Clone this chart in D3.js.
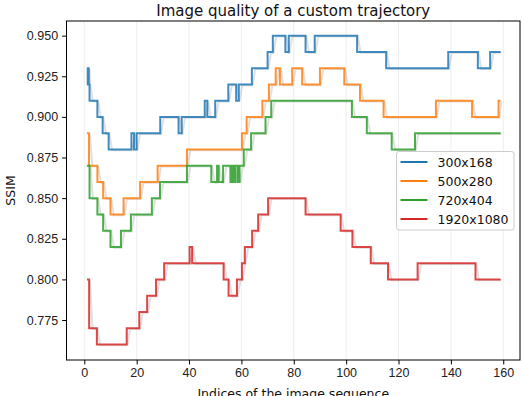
<!DOCTYPE html>
<html>
<head>
<meta charset="utf-8">
<script src="https://cdn.jsdelivr.net/npm/d3@7"></script>
<style>
  body { margin: 0; background: #fff; }
  svg { display: block; font-family: "DejaVu Sans", sans-serif; }
  .axis text { font-size: 12.5px; fill: #222; }
  .axis path, .axis line { stroke: #000; }
</style>
</head>
<body>
<div id="chart"></div>
<script>
// step change points (index where the value starts) and SSIM values
var names = ["300x168", "500x280", "720x404", "1920x1080"];
var colors = ["#1f77b4", "#ff7f0e", "#2ca02c", "#d62728"];

var blueX = [1, 1.3, 1.7, 2, 5, 7, 9.3, 18, 19, 20, 29, 36, 37.2, 46, 47, 50, 55, 58, 59, 64, 70, 72, 76.8, 78.1, 84.5, 88, 104.2, 115.3, 139, 150.3, 155, 159];
var blueY = [0.92, 0.93, 0.92, 0.91, 0.90, 0.89, 0.88, 0.89, 0.88, 0.89, 0.90, 0.89, 0.90, 0.91, 0.90, 0.91, 0.92, 0.91, 0.92, 0.93, 0.94, 0.95, 0.94, 0.95, 0.94, 0.95, 0.94, 0.93, 0.94, 0.93, 0.94, 0.94];

var orangeX = [1, 1.8, 5, 7.2, 10, 15, 21.3, 28, 39.2, 60.2, 62, 68, 70.5, 73.1, 74.7, 79.4, 83.2, 90, 99.3, 105.3, 114.3, 134.3, 148.1, 158.2, 159];
var orangeY = [0.89, 0.87, 0.86, 0.85, 0.84, 0.85, 0.86, 0.87, 0.88, 0.89, 0.90, 0.91, 0.92, 0.93, 0.92, 0.93, 0.92, 0.93, 0.92, 0.91, 0.90, 0.91, 0.90, 0.91, 0.91];

var greenX = [1, 2, 5, 7.2, 10, 14, 17.8, 25.8, 28.9, 39.2, 48.5, 50.7, 51.3, 53, 55.8, 56.4, 57, 57.7, 58.6, 59.3, 60.9, 63.7, 69.2, 71.4, 102.2, 107.9, 117.4, 126.3, 159];
var greenY = [0.87, 0.85, 0.84, 0.83, 0.82, 0.83, 0.84, 0.85, 0.86, 0.87, 0.86, 0.87, 0.86, 0.87, 0.86, 0.87, 0.86, 0.87, 0.86, 0.87, 0.88, 0.89, 0.90, 0.91, 0.90, 0.89, 0.88, 0.89, 0.89];

var redX = [1, 1.85, 4.8, 16.2, 21, 24, 27.4, 30.5, 40.2, 41.2, 53.2, 55.1, 58.3, 60.2, 61.3, 64.1, 66.4, 70.2, 84.5, 97.9, 102.4, 109.4, 116, 127.3, 149.4, 159];
var redY = [0.80, 0.77, 0.76, 0.77, 0.78, 0.79, 0.80, 0.81, 0.82, 0.81, 0.80, 0.79, 0.80, 0.81, 0.82, 0.83, 0.84, 0.85, 0.84, 0.83, 0.82, 0.81, 0.80, 0.81, 0.80, 0.80];

var xTicks = [0, 20, 40, 60, 80, 100, 120, 140, 160];
var yTicks = [0.775, 0.800, 0.825, 0.850, 0.875, 0.900, 0.925, 0.950];

var seriesX = [blueX, orangeX, greenX, redX];
var seriesY = [blueY, orangeY, greenY, redY];

var width = 522, height = 396;
var plotLeft = 66.5, plotRight = 520, plotTop = 21, plotBottom = 360;

var x = d3.scaleLinear().domain([-6.8, 166.4]).range([plotLeft, plotRight]);
var y = d3.scaleLinear().domain([0.7504, 0.959]).range([plotBottom, plotTop]);

var svg = d3.select("#chart")
    .append("svg")
    .attr("width", width)
    .attr("height", height);

// vertical grid
svg.append("g")
    .selectAll("line")
    .data(xTicks)
    .enter()
    .append("line")
    .attr("x1", d => x(d)).attr("x2", d => x(d))
    .attr("y1", plotTop).attr("y2", plotBottom)
    .attr("stroke", "#e8e8e8")
    .attr("stroke-width", 0.8);

var series = names.map(function(n, i) {
    return {name: n, color: colors[i],
	    pts: seriesX[i].map((v, j) => [v, seriesY[i][j]])};
});

// light grey trace: same steps but with slanted transitions
function slanted(pts) {
    var out = [];
    pts.forEach(function(p, i) {
	if(i > 0) out.push([p[0], pts[i - 1][1]]);
	var nx = i < pts.length - 1 ? Math.min(p[0] + 1, pts[i + 1][0]) : p[0];
	out.push([nx, p[1]]);
    });
    return out;
}

var shadowLine = d3.line()
    .x(d => x(d[0]) + 0.8)
    .y(d => y(d[1]) + 0.8);

var stepLine = d3.line()
    .x(d => x(d[0]))
    .y(d => y(d[1]))
    .curve(d3.curveStepAfter);

var plot = svg.append("g");

series.forEach(function(s) {
    plot.append("path")
	.attr("d", shadowLine(slanted(s.pts)))
	.attr("fill", "none")
	.attr("stroke", "#999")
	.attr("stroke-opacity", 0.3)
	.attr("stroke-width", 2);
    plot.append("path")
	.attr("d", stepLine(s.pts))
	.attr("fill", "none")
	.attr("stroke", s.color)
	.attr("stroke-opacity", 0.85)
	.attr("stroke-width", 2);
});

// axes
var xAxis = d3.axisBottom(x).tickValues(xTicks).tickSize(4.4).tickPadding(4);
var yAxis = d3.axisLeft(y).tickValues(yTicks).tickFormat(d3.format(".3f")).tickSize(4.4).tickPadding(4);

svg.append("g")
    .attr("class", "axis")
    .attr("transform", "translate(0," + plotBottom + ")")
    .call(xAxis)
    .call(g => g.select(".domain").remove());

svg.append("g")
    .attr("class", "axis")
    .attr("transform", "translate(" + plotLeft + ",0)")
    .call(yAxis)
    .call(g => g.select(".domain").remove());

// frame
svg.append("rect")
    .attr("x", plotLeft).attr("y", plotTop)
    .attr("width", plotRight - plotLeft).attr("height", plotBottom - plotTop)
    .attr("fill", "none")
    .attr("stroke", "#000")
    .attr("stroke-width", 1);

// title and labels
svg.append("text")
    .attr("x", (plotLeft + plotRight) / 2).attr("y", 16)
    .attr("text-anchor", "middle")
    .style("font-size", "15px")
    .attr("fill", "#111")
    .text("Image quality of a custom trajectory");

svg.append("text")
    .attr("x", (plotLeft + plotRight) / 2).attr("y", 398)
    .attr("text-anchor", "middle")
    .style("font-size", "12.5px")
    .attr("fill", "#111")
    .text("Indices of the image sequence");

svg.append("text")
    .attr("transform", "translate(15," + (plotTop + plotBottom) / 2 + ") rotate(-90)")
    .attr("text-anchor", "middle")
    .style("font-size", "12.5px")
    .attr("fill", "#111")
    .text("SSIM");

// legend
var legend = svg.append("g").attr("transform", "translate(396.5,151.5)");
legend.append("rect")
    .attr("width", 117.5).attr("height", 78.5)
    .attr("rx", 2.5)
    .attr("fill", "#fff").attr("fill-opacity", 0.8)
    .attr("stroke", "#ccc").attr("stroke-width", 1);

var items = legend.selectAll("g.item")
    .data(series)
    .enter()
    .append("g")
    .attr("class", "item")
    .attr("transform", (d, i) => "translate(0," + (10.5 + i * 19) + ")");

items.append("line")
    .attr("x1", 4).attr("x2", 31)
    .attr("stroke", d => d.color)
    .attr("stroke-width", 2);

items.append("text")
    .attr("x", 41).attr("y", 4.5)
    .style("font-size", "12.5px")
    .attr("fill", "#111")
    .text(d => d.name);
</script>
</body>
</html>
